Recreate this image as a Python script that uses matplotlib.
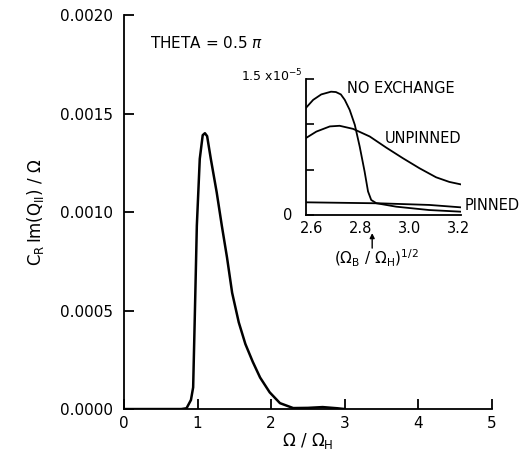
import matplotlib
matplotlib.use('Agg')
import matplotlib.pyplot as plt

# Main curve, Omega/Omega_H vs C_R Im(Q_II)/Omega
main_x = [0.0, 0.78, 0.85, 0.91, 0.94, 0.96, 0.98, 0.99, 1.03, 1.07, 1.10, 1.13,
          1.18, 1.26, 1.33, 1.40, 1.47, 1.56, 1.65, 1.75, 1.85, 1.98, 2.12, 2.30,
          2.50, 2.70, 2.90, 3.00]
main_y = [0.0, 0.0, 0.000004, 0.000046, 0.00011, 0.00043, 0.00076, 0.00093,
          0.00127, 0.00139, 0.00140, 0.001385, 0.00127, 0.00110, 0.00093,
          0.00077, 0.00059, 0.00044, 0.00033, 0.00024, 0.00016, 0.000085,
          0.00003, 0.000005, 0.000006, 0.00001, 0.000004, 0.0]

# Inset curves (y in units of 1e-5)
noex_x = [2.577, 2.607, 2.64, 2.68, 2.70, 2.72, 2.736, 2.756, 2.777, 2.797,
          2.817, 2.831, 2.844, 2.865, 2.946, 3.08, 3.208]
noex_y = [1.18, 1.27, 1.33, 1.36, 1.356, 1.33, 1.27, 1.16, 0.995, 0.755,
          0.48, 0.26, 0.166, 0.13, 0.092, 0.055, 0.037]
unp_x = [2.577, 2.62, 2.675, 2.715, 2.77, 2.838, 2.905, 2.973, 3.041, 3.109,
         3.163, 3.208]
unp_y = [0.848, 0.92, 0.977, 0.984, 0.95, 0.866, 0.744, 0.627, 0.516, 0.416,
         0.365, 0.339]
pin_x = [2.577, 2.878, 3.082, 3.208]
pin_y = [0.14, 0.129, 0.111, 0.085]

main_yticks = [0.0, 0.0005, 0.0010, 0.0015, 0.0020]
main_xticks = [0, 1, 2, 3, 4, 5]
inset_xticks = [2.6, 2.8, 3.0, 3.2]
inset_yticks = [0.0, 0.5, 1.0, 1.5]

fig = plt.figure(figsize=(5.21, 4.54), dpi=100)
ax = fig.add_axes([0.238, 0.099, 0.706, 0.868])
ax.plot(main_x, main_y, color='black', lw=1.8)
ax.set_xlim(0, 5)
ax.set_ylim(0, 0.0020)
ax.spines['top'].set_visible(False)
ax.spines['right'].set_visible(False)
ax.spines['left'].set_linewidth(1.3)
ax.spines['bottom'].set_linewidth(1.3)
ax.set_xticks(main_xticks)
ax.set_yticks(main_yticks)
ax.set_yticklabels(['%.4f' % v for v in main_yticks])
ax.tick_params(direction='in', length=7, width=1.3, labelsize=11)
ax.tick_params(axis='y', pad=8)
ax.tick_params(axis='x', pad=5)
ax.set_xlabel(r'$\Omega\ /\ \Omega_\mathrm{H}$', fontsize=12, labelpad=0)
ax.set_ylabel(r'$\mathrm{C_R\,Im(Q_{II})\ /\ \Omega}$', fontsize=12, labelpad=10)
ax.text(0.353, 0.001858, r'THETA = 0.5 $\pi$', fontsize=11, va='center')

ins = fig.add_axes([0.587, 0.5264, 0.2975, 0.2996])
ins.plot(noex_x, noex_y, color='black', lw=1.3)
ins.plot(unp_x, unp_y, color='black', lw=1.3)
ins.plot(pin_x, pin_y, color='black', lw=1.3)
ins.set_xlim(2.577, 3.21)
ins.set_ylim(0, 1.5)
ins.spines['top'].set_visible(False)
ins.spines['right'].set_visible(False)
ins.spines['left'].set_linewidth(1.3)
ins.spines['bottom'].set_linewidth(1.3)
ins.set_xticks(inset_xticks)
ins.set_xticklabels(['%.1f' % v for v in inset_xticks])
ins.tick_params(axis='x', length=0, labelsize=10.5, pad=4)
ins.set_yticks(inset_yticks)
ins.set_yticklabels([])
ins.tick_params(axis='y', direction='in', length=6, width=1.2)
ins.text(2.503, 0.0, '0', fontsize=10.5, ha='center', va='center')
ins.text(2.565, 1.53, r'1.5 x10$^{-5}$', fontsize=9, ha='right', va='center')
ins.text(2.745, 1.39, 'NO EXCHANGE', fontsize=10.5, va='center')
ins.text(2.90, 0.84, 'UNPINNED', fontsize=10.5, va='center')
ins.text(3.226, 0.11, 'PINNED', fontsize=10.5, va='center', clip_on=False)
ins.annotate('', xy=(2.848, -0.20), xytext=(2.848, -0.365),
             xycoords='data', textcoords='data', annotation_clip=False,
             arrowprops=dict(arrowstyle='-|>', color='black', lw=1.0,
                             mutation_scale=7, shrinkA=0, shrinkB=0))
ins.text(2.867, -0.48, r'$(\Omega_\mathrm{B}\ /\ \Omega_\mathrm{H})^{1/2}$',
         fontsize=11, ha='center', va='center')

fig.savefig('out.png', dpi=100)
